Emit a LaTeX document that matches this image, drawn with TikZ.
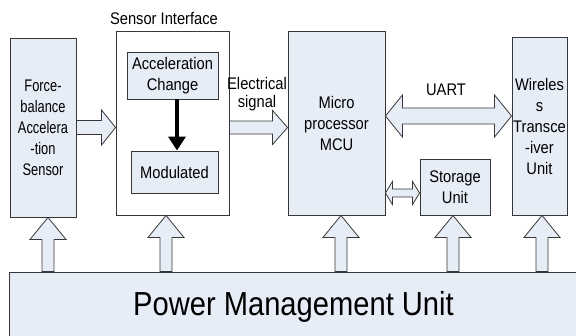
\documentclass[tikz,border=0pt]{standalone}
\usepackage{fontspec}
\setmainfont{Liberation Sans}[FakeStretch=0.875]
\newfontfamily\narrowfont{Liberation Sans}[FakeStretch=0.765]
\usepackage{tikz}
\usetikzlibrary{arrows.meta,calc}

\definecolor{boxblue}{RGB}{231,237,247}
\definecolor{edgegray}{RGB}{55,55,55}

% hollow block arrow: from, to, shaft half-width, head half-width, head length
\newcommand{\fatarrow}[5]{%
  \coordinate (hb) at ($(#2)!#5!(#1)$);
  \draw[fatline] ($(#1)!#3!90:(#2)$) -- ($(hb)!#3!-90:(#1)$) -- ($(hb)!#4!-90:(#1)$)
    -- (#2) -- ($(hb)!#4!90:(#1)$) -- ($(hb)!#3!90:(#1)$) -- ($(#1)!#3!-90:(#2)$) -- cycle;
}
% hollow double block arrow
\newcommand{\dblarrow}[5]{%
  \coordinate (ha) at ($(#1)!#5!(#2)$);
  \coordinate (hb) at ($(#2)!#5!(#1)$);
  \draw[fatline] (#1) -- ($(ha)!#4!90:(hb)$) -- ($(ha)!#3!90:(hb)$) -- ($(hb)!#3!-90:(ha)$)
    -- ($(hb)!#4!-90:(ha)$) -- (#2) -- ($(hb)!#4!90:(ha)$) -- ($(hb)!#3!90:(ha)$)
    -- ($(ha)!#3!-90:(hb)$) -- ($(ha)!#4!-90:(hb)$) -- cycle;
}

\begin{document}
\begin{tikzpicture}[x=1pt, y=-1pt, >=Stealth, font=\fontsize{16.8}{21}\selectfont,
  box/.style={draw=edgegray, line width=0.9pt, fill=boxblue, align=center, inner sep=0pt},
  fatline/.style={draw=edgegray, line width=0.8pt, fill=boxblue, line join=miter}]
\useasboundingbox (0,0) rectangle (576,336);

% Blocks
\node[box, minimum width=66pt, minimum height=179pt, font=\narrowfont\fontsize{16.8}{21}\selectfont] (force) at (43,127.5) {Force-\\balance\\Accelera\\-tion\\Sensor};
\node[box, fill=white, minimum width=113pt, minimum height=184pt] (sensor) at (172.5,123) {};
\node[box, minimum width=91pt, minimum height=47pt] (acc) at (172.5,75.5) {Acceleration\\Change};
\node[box, minimum width=87pt, minimum height=42pt] (mod) at (174.5,172) {Modulated};
\node[box, minimum width=97pt, minimum height=184pt] (mcu) at (336.5,123) {Micro\\processor\\MCU};
\node[box, minimum width=70pt, minimum height=56pt] (storage) at (455,187) {Storage\\Unit};
\node[box, minimum width=55pt, minimum height=178pt] (wireless) at (539.5,126) {Wireles\\s\\Transce\\-iver\\Unit};
\node[box, minimum width=569pt, minimum height=64pt, text height=23pt, text depth=0pt, font=\fontsize{33.3}{38}\selectfont] (power) at (293.5,304) {Power Management Unit};

% Labels
\node[anchor=base] (sensorlbl) at (164,25) {Sensor Interface};
\node[align=center, font=\fontsize{16.8}{18}\selectfont] (elec) at (257,94) {Electrical\\signal};
\node[anchor=base] (uart) at (446,96) {UART};

% Signal path
\fatarrow{force.east}{sensor.west |- force.east}{7pt}{17.5pt}{14pt}
\fatarrow{sensor.east |- force.east}{mcu.west |- force.east}{6.5pt}{17pt}{15pt}
\draw[line width=4pt, -{Triangle[length=14pt,width=17pt]}] ([xshift=4.5pt]acc.south) -- ([xshift=4.5pt]acc.south |- mod.north);

% MCU links
\coordinate (uartL) at ([yshift=7pt]mcu.east);
\coordinate (uartR) at (wireless.west |- uartL);
\dblarrow{uartL}{uartR}{8pt}{21pt}{17pt}
\coordinate (storeR) at ([yshift=-6pt]storage.west);
\coordinate (storeL) at (mcu.east |- storeR);
\dblarrow{storeL}{storeR}{4pt}{11.5pt}{7pt}

% Power supply
\foreach \x/\blk in {48/force, 166/sensor, 341/mcu, 453/storage, 542/wireless}{
  \fatarrow{power.north -| \x,0}{\blk.south -| \x,0}{6pt}{18pt}{22pt}
}
\end{tikzpicture}
\end{document}
